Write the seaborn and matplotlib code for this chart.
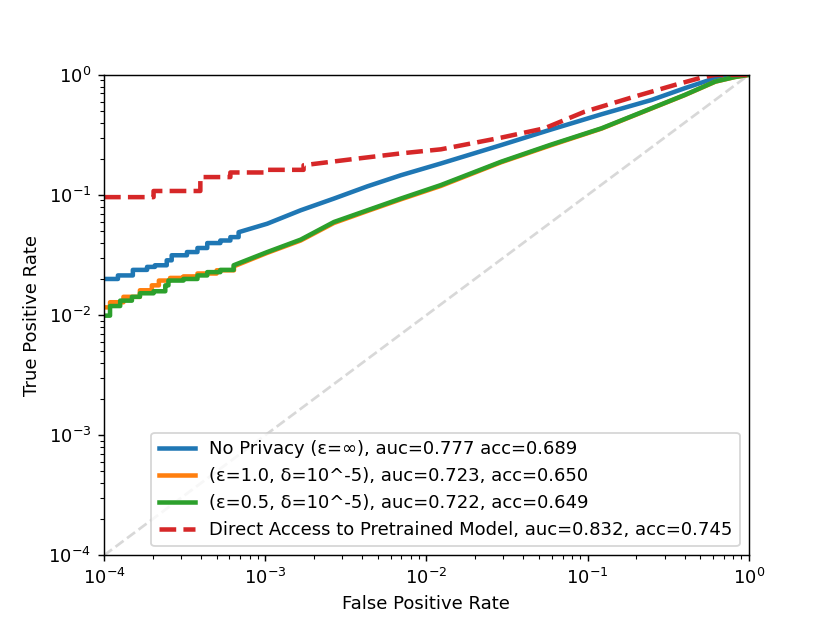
import matplotlib
matplotlib.use("Agg")
import matplotlib.pyplot as plt
import seaborn as sns

# ---- data ----
fpr_np = [1.0e-4, 1.22e-4, 1.22e-4, 1.51e-4, 1.51e-4, 1.85e-4, 1.85e-4, 2.07e-4, 2.07e-4,
          2.45e-4, 2.45e-4, 2.63e-4, 2.63e-4, 3.27e-4, 3.27e-4, 3.80e-4, 3.80e-4, 4.37e-4,
          4.37e-4, 5.27e-4, 5.27e-4, 6.08e-4, 6.08e-4, 6.84e-4, 6.84e-4, 1.03e-3, 1.66e-3,
          2.67e-3, 4.3e-3, 6.94e-3, 1.23e-2, 2.9e-2, 5.9e-2, 0.122, 0.249, 0.40, 0.62,
          0.82, 1.0]
tpr_np = [0.020, 0.020, 0.0214, 0.0214, 0.0238, 0.0238, 0.0252, 0.0252, 0.0260, 0.0260,
          0.0286, 0.0286, 0.0315, 0.0315, 0.0335, 0.0335, 0.0362, 0.0362, 0.0398, 0.0398,
          0.0418, 0.0418, 0.0446, 0.0446, 0.049, 0.0577, 0.0746, 0.0934, 0.118, 0.146,
          0.183, 0.26, 0.350, 0.47, 0.618, 0.774, 0.94, 1.0, 1.0]

fpr_e10 = [1.0e-4, 1.09e-4, 1.09e-4, 1.32e-4, 1.32e-4, 1.67e-4, 1.67e-4, 1.98e-4, 1.98e-4,
           2.19e-4, 2.19e-4, 2.57e-4, 2.57e-4, 3.11e-4, 3.11e-4, 3.8e-4, 3.8e-4, 5.0e-4,
           5.0e-4, 6.4e-4, 6.4e-4, 1.03e-3, 1.66e-3, 2.67e-3, 4.3e-3, 6.94e-3, 1.23e-2,
           2.9e-2, 5.9e-2, 0.122, 0.249, 0.40, 0.62, 0.82, 1.0]
tpr_e10 = [0.0116, 0.0116, 0.0128, 0.0128, 0.0142, 0.0142, 0.0161, 0.0161, 0.0177, 0.0177,
           0.0194, 0.0194, 0.0204, 0.0204, 0.0210, 0.0210, 0.0222, 0.0222, 0.0236, 0.0236,
           0.0255, 0.0330, 0.0418, 0.0585, 0.0735, 0.092, 0.119, 0.187, 0.259, 0.357,
           0.525, 0.678, 0.878, 0.96, 1.0]

fpr_e05 = [1.0e-4, 1.09e-4, 1.09e-4, 1.26e-4, 1.26e-4, 1.49e-4, 1.49e-4, 1.67e-4, 1.67e-4,
           2.03e-4, 2.03e-4, 2.40e-4, 2.40e-4, 2.51e-4, 2.51e-4, 3.11e-4, 3.11e-4, 3.80e-4,
           3.80e-4, 4.37e-4, 4.37e-4, 5.27e-4, 5.27e-4, 6.37e-4, 6.37e-4, 1.03e-3, 1.66e-3,
           2.67e-3, 4.3e-3, 6.94e-3, 1.23e-2, 2.9e-2, 5.9e-2, 0.122, 0.249, 0.40, 0.62,
           0.82, 1.0]
tpr_e05 = [0.0099, 0.0099, 0.0119, 0.0119, 0.0132, 0.0132, 0.0142, 0.0142, 0.0152, 0.0152,
           0.0158, 0.0158, 0.0177, 0.0177, 0.0194, 0.0194, 0.0200, 0.0200, 0.0214, 0.0214,
           0.0228, 0.0228, 0.0238, 0.0238, 0.0260, 0.0335, 0.0425, 0.0596, 0.0746, 0.0934,
           0.121, 0.189, 0.262, 0.359, 0.527, 0.68, 0.88, 0.96, 1.0]

fpr_direct = [1.0e-4, 2.03e-4, 2.03e-4, 3.96e-4, 3.96e-4, 6.08e-4, 6.08e-4, 1.0e-3, 1.0e-3,
              1.73e-3, 1.73e-3, 3.4e-3, 6.94e-3, 1.23e-2, 2.9e-2, 5.4e-2, 9.6e-2, 0.196,
              0.348, 0.51, 0.62, 1.0]
tpr_direct = [0.096, 0.096, 0.108, 0.108, 0.141, 0.141, 0.154, 0.154, 0.162, 0.162,
              0.177, 0.198, 0.222, 0.240, 0.30, 0.359, 0.494, 0.66, 0.825, 0.95, 1.0, 1.0]

diag_vals = [1e-4, 1.0]

labels = [
    "No Privacy (ε=∞), auc=0.777 acc=0.689",
    "(ε=1.0, δ=10^-5), auc=0.723, acc=0.650",
    "(ε=0.5, δ=10^-5), auc=0.722, acc=0.649",
    "Direct Access to Pretrained Model, auc=0.832, acc=0.745",
]

fig, ax = plt.subplots(figsize=(6.4, 4.8), dpi=130)

sns.lineplot(x=diag_vals, y=diag_vals, ax=ax, color="gray", alpha=0.3,
             linestyle="--", linewidth=1.5, sort=False, estimator=None)

series = [(fpr_np, tpr_np, "C0", "-"),
          (fpr_e10, tpr_e10, "C1", "-"),
          (fpr_e05, tpr_e05, "C2", "-"),
          (fpr_direct, tpr_direct, "C3", "--")]
for (fx, ty, c, ls), lab in zip(series, labels):
    sns.lineplot(x=fx, y=ty, ax=ax, color=c, linestyle=ls, linewidth=2.5,
                 sort=False, estimator=None, label=lab)

ax.set_xscale("log")
ax.set_yscale("log")
ax.set_xlim(1e-4, 1)
ax.set_ylim(1e-4, 1)
ax.set_xlabel("False Positive Rate")
ax.set_ylabel("True Positive Rate")
ax.legend(loc="lower right")

fig.savefig("out.png", dpi=130)
